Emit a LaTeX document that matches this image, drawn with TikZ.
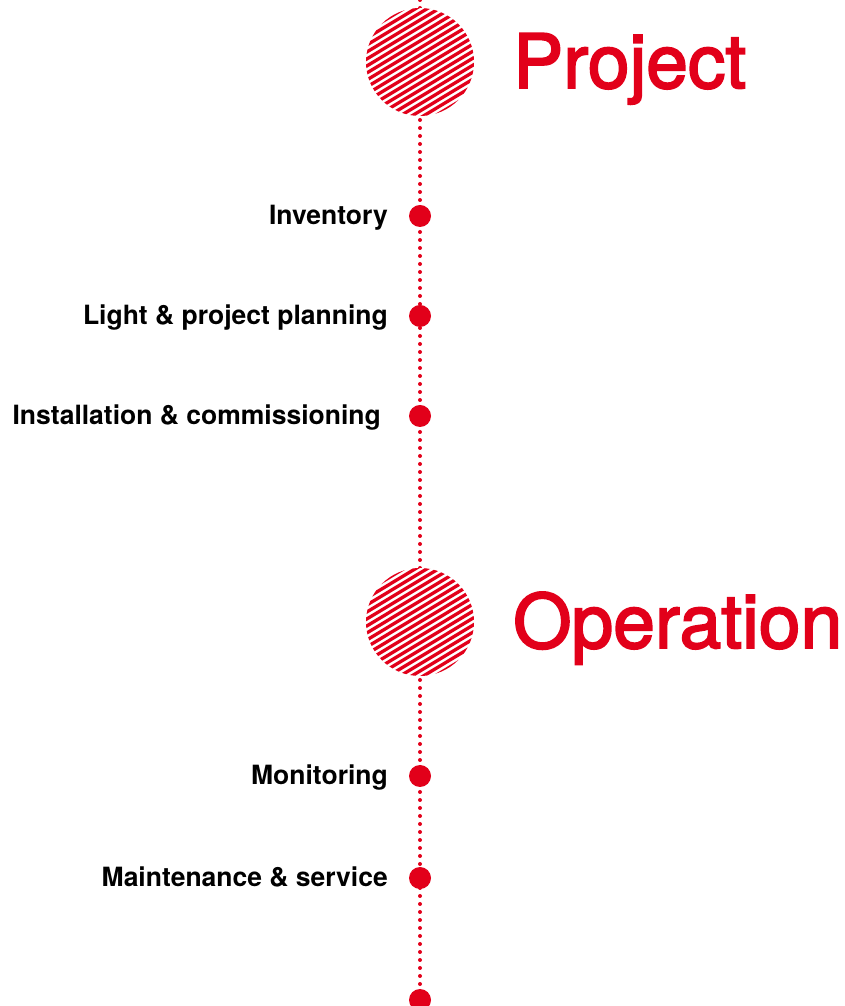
\documentclass[tikz,border=0pt]{standalone}
\usepackage{fontspec}
\setmainfont{TeX Gyre Heros}
\newfontfamily\titlefont[FakeBold=2.5]{TeX Gyre Heros}
\definecolor{brandred}{HTML}{E2001A}
\tikzset{
  phase/.style={circle, inner sep=0pt, minimum size=108pt, fill=white,
    path picture={
      \foreach \k in {-9,...,9}
        \draw[brandred, line width=3.3pt] (path picture bounding box.center)
          ++(121:\k*6) ++(211:70) -- ++(31:140);
    }},
  stepdot/.style={circle, fill=brandred, inner sep=0pt, minimum size=22pt},
  steplabel/.style={anchor=base east, inner sep=0pt, font=\bfseries\fontsize{26.5}{30}\selectfont},
  phaselabel/.style={anchor=base west, inner sep=0pt, text=brandred, font=\titlefont\fontsize{75}{80}\selectfont},
  timeline/.style={brandred, line width=4pt, line cap=round, dash pattern=on 0pt off 8pt}
}
\begin{document}
\begin{tikzpicture}[x=1pt,y=1pt]
\useasboundingbox (0,0) rectangle (845,1006);
\coordinate (top) at (420,1006);
\node[stepdot] (end) at (420,6) {};
\path[draw,timeline] (top) -- (end);
% phases
\node[phase] (proj) at (420,944) {};
\node[phase] (oper) at (420,384) {};
\node[phaselabel] (projtxt) at (513,918) {Project};
\node[phaselabel] (opertxt) at (513,358) {Operation};
% steps
\node[stepdot] (inv) at (420,790) {};
\node[stepdot] (plan) at (420,690) {};
\node[stepdot] (inst) at (420,590) {};
\node[stepdot] (mon) at (420,230) {};
\node[stepdot] (serv) at (420,128) {};
\node[steplabel] (invtxt) at (388,781) {Inventory};
\node[steplabel] (plantxt) at (388,681) {Light \& project planning};
\node[steplabel] (insttxt) at (381,581) {Installation \& commissioning};
\node[steplabel] (montxt) at (388,221) {Monitoring};
\node[steplabel] (servtxt) at (388,119) {Maintenance \& service};
\end{tikzpicture}
\end{document}
